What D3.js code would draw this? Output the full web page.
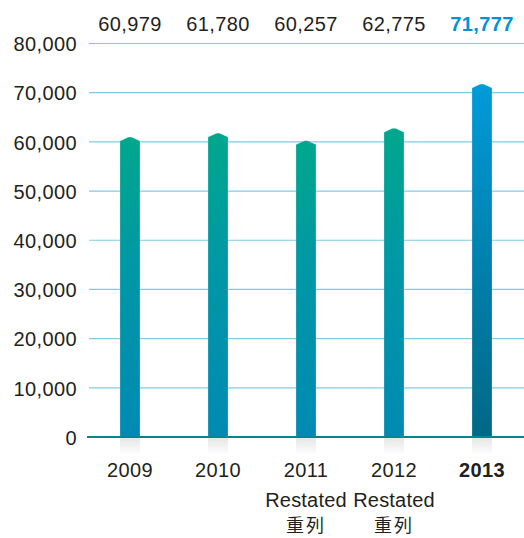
<!DOCTYPE html>
<html>
<head>
<meta charset="utf-8">
<script src="https://cdn.jsdelivr.net/npm/d3@7"></script>
<style>
  body { margin: 0; background: #fff; }
  svg text { font-family: "Liberation Sans", Arial, sans-serif; fill: #231f20; }
</style>
</head>
<body>
<div id="chart"></div>
<script>
const years = ['2009', '2010', '2011', '2012', '2013']
const values = [60979, 61780, 60257, 62775, 71777]
const notesEn = ['', '', 'Restated', 'Restated', '']
const notesZh = ['', '', '重列', '重列', '']
const yTicks = [0, 10000, 20000, 30000, 40000, 50000, 60000, 70000, 80000]

const width = 524
const height = 538
const fmt = d3.format(',')
const last = years.length - 1

const svg = d3.select('#chart').append('svg')
    .attr('width', width)
    .attr('height', height)

const xScale = d3.scaleBand()
    .domain(years)
    .range([86, 526])
    .paddingInner(0.773)
    .paddingOuter(0.3865)

const yScale = d3.scaleLinear()
    .domain([0, 80000])
    .range([437, 43.5])

// gradients
const defs = svg.append('defs')
const makeGrad = (id, stops) => {
    const g = defs.append('linearGradient')
        .attr('id', id)
        .attr('x1', 0).attr('y1', 0).attr('x2', 0).attr('y2', 1)
    stops.forEach(s => g.append('stop').attr('offset', s[0]).attr('stop-color', s[1]))
}
makeGrad('gradOld', [[0, '#00a78c'], [0.45, '#0097a6'], [1, '#008ab2']])
makeGrad('gradNew', [[0, '#009bd9'], [0.5, '#0081ad'], [1, '#006886']])
const refl = defs.append('linearGradient')
    .attr('id', 'refl')
    .attr('x1', 0).attr('y1', 0).attr('x2', 0).attr('y2', 1)
refl.append('stop').attr('offset', 0).attr('stop-color', '#d6d6d6')
refl.append('stop').attr('offset', 1).attr('stop-color', '#ffffff')

// gridlines
svg.append('g')
    .selectAll('line')
    .data(yTicks.filter(d => d > 0))
    .enter()
    .append('line')
    .attr('x1', 89)
    .attr('x2', width)
    .attr('y1', d => yScale(d))
    .attr('y2', d => yScale(d))
    .attr('stroke', '#7ccbe6')
    .attr('stroke-width', 1.2)

// y axis labels
const yAxis = d3.axisLeft(yScale)
    .tickValues(yTicks)
    .tickFormat(fmt)
    .tickSize(0)
    .tickPadding(0)

svg.append('g')
    .attr('transform', 'translate(77, 0)')
    .call(yAxis)
    .call(g => g.select('.domain').remove())
    .call(g => g.selectAll('text')
        .attr('font-size', 20)
        .attr('letter-spacing', 0.4)
        .attr('fill', '#231f20')
        .attr('dy', '0.36em'))

// reflections
svg.append('g')
    .selectAll('rect')
    .data(years)
    .enter()
    .append('rect')
    .attr('x', d => xScale(d))
    .attr('y', yScale(0) + 1)
    .attr('width', xScale.bandwidth())
    .attr('height', 17)
    .attr('fill', 'url(#refl)')
    .attr('opacity', 0.6)

// bars with pointed cap
const cap = 4
svg.append('g')
    .selectAll('path')
    .data(years)
    .enter()
    .append('path')
    .attr('d', (d, i) => {
        const x0 = xScale(d)
        const x1 = x0 + xScale.bandwidth()
        const cx = x0 + xScale.bandwidth() / 2
        const top = yScale(values[i])
        const base = yScale(0)
        return `M${x0},${base}L${x0},${top + cap}L${cx - 2},${top + 0.3}L${cx},${top}L${cx + 2},${top + 0.3}L${x1},${top + cap}L${x1},${base}Z`
    })
    .attr('fill', (d, i) => i === last ? 'url(#gradNew)' : 'url(#gradOld)')
    .attr('stroke', 'rgba(255,255,255,0.35)')
    .attr('stroke-width', 0.6)

// baseline
svg.append('line')
    .attr('x1', 87)
    .attr('x2', width)
    .attr('y1', yScale(0))
    .attr('y2', yScale(0))
    .attr('stroke', '#00868e')
    .attr('stroke-width', 2)

// value labels on top
svg.append('g')
    .selectAll('text')
    .data(years)
    .enter()
    .append('text')
    .attr('x', d => xScale(d) + xScale.bandwidth() / 2)
    .attr('y', 30.5)
    .attr('text-anchor', 'middle')
    .attr('font-size', 20)
    .attr('letter-spacing', 0.4)
    .attr('font-weight', (d, i) => i === last ? 'bold' : 'normal')
    .style('fill', (d, i) => i === last ? '#0093d3' : '#231f20')
    .text((d, i) => fmt(values[i]))

// x labels
const xLabels = svg.append('g')
    .selectAll('g')
    .data(years)
    .enter()
    .append('g')
    .attr('transform', d => `translate(${xScale(d) + xScale.bandwidth() / 2}, 0)`)

xLabels.append('text')
    .attr('y', 477)
    .attr('text-anchor', 'middle')
    .attr('font-size', 20)
    .attr('letter-spacing', 0.4)
    .attr('font-weight', (d, i) => i === last ? 'bold' : 'normal')
    .text(d => d)

xLabels.append('text')
    .attr('y', 507)
    .attr('text-anchor', 'middle')
    .attr('font-size', 20)
    .attr('letter-spacing', 0.2)
    .text((d, i) => notesEn[i])

xLabels.append('text')
    .attr('y', 532)
    .attr('text-anchor', 'middle')
    .attr('font-size', 18)
    .style('font-family', '"Noto Sans CJK TC", sans-serif')
    .attr('letter-spacing', 2)
    .text((d, i) => notesZh[i])
</script>
</body>
</html>
